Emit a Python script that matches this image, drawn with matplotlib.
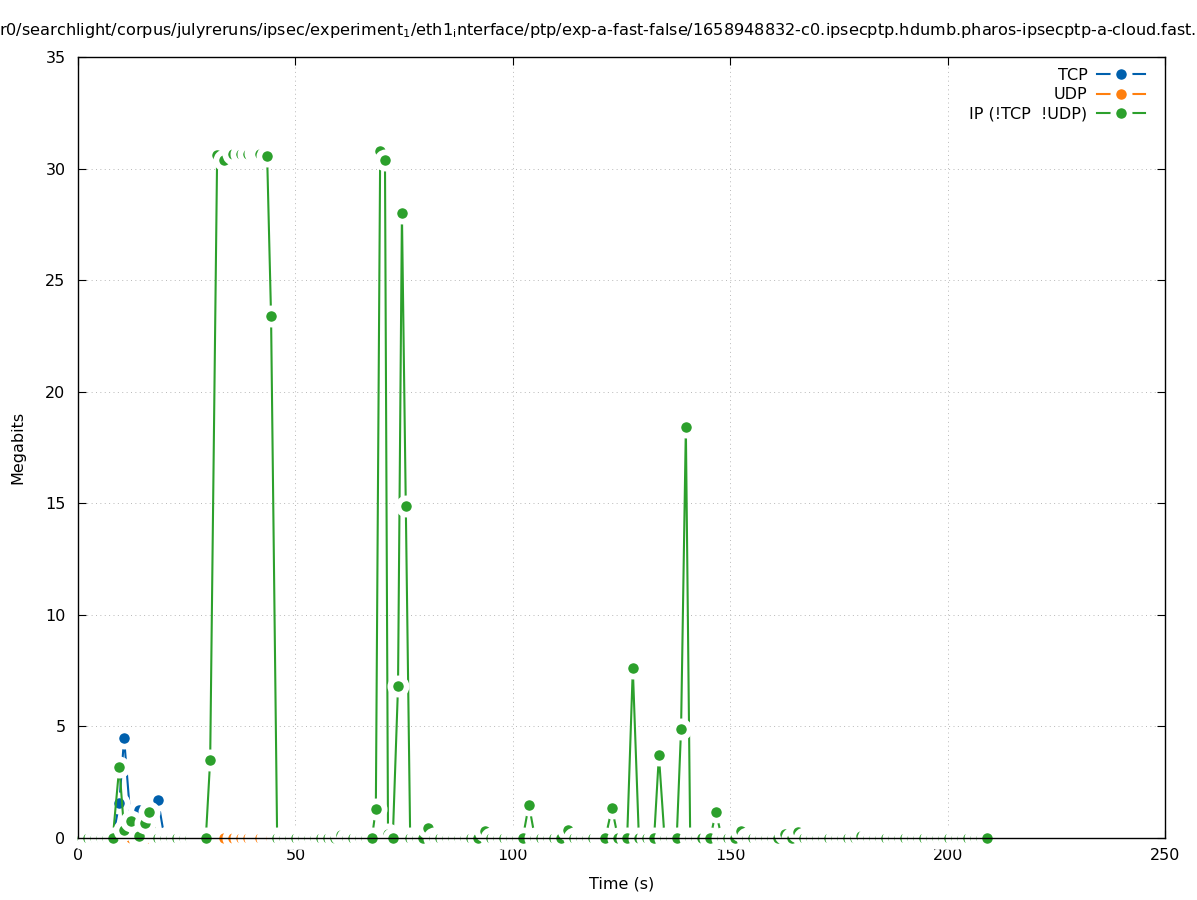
import matplotlib
matplotlib.use('Agg')
import matplotlib.pyplot as plt

# sample times (s) shared by all three series
time_s = [
    1.0, 2.4, 3.9, 5.3, 6.7, 8.0,
    9.5, 10.6, 12.3, 14.1, 15.4, 16.4,
    18.4, 19.9, 21.4, 22.8, 24.3, 25.7, 27.2, 28.4, 29.4,
    30.4, 32.0, 33.6, 35.7, 37.6, 39.2, 40.6, 41.8, 43.5, 44.4,
    45.8, 47.3, 48.8, 50.2, 51.7, 53.1, 54.6, 56.0, 57.5, 59.0, 60.5, 61.9, 63.3, 64.8, 66.2, 67.6,
    68.5, 69.5, 70.6, 71.3, 72.4, 73.6, 74.5, 75.4, 76.4,
    77.9, 79.3, 80.5, 81.9, 83.3, 84.8, 86.2, 87.6, 89.0, 90.5, 92.0, 93.6,
    95.0, 96.5, 98.0, 99.5, 100.9, 102.3, 103.7,
    105.1, 106.6, 108.0, 109.5, 111.0, 112.7,
    114.1, 115.6, 117.0, 118.5, 120.0, 121.3, 122.8, 124.2, 126.3, 127.6,
    129.0, 130.8, 132.5, 133.6, 134.9, 136.3, 137.7, 138.7, 139.8, 140.8,
    142.2, 143.6, 145.4, 146.7, 148.1,
    149.6, 151.0, 152.4, 153.9, 155.3, 156.8, 158.2, 159.7, 161.1, 162.6,
    164.1, 165.6, 167.0, 168.5, 169.9, 171.4, 172.8, 174.3, 175.8, 177.2,
    178.7, 180.1, 181.6, 183.0, 184.5, 185.9, 187.4, 188.8, 190.3, 191.7,
    193.2, 194.6, 196.1, 197.5, 199.0, 200.4, 201.9, 203.3, 204.8, 206.2,
    207.7, 209.1,
]

ip_mbit = [
    0, 0, 0, 0, 0, 0,
    3.2, 0.36, 0.76, 0.1, 0.69, 1.15,
    0, 0, 0, 0, 0, 0, 0, 0, 0,
    3.5, 30.6, 30.4, 30.65, 30.65, 30.65, 30.7, 30.65, 30.57, 23.4,
    0, 0, 0, 0, 0, 0, 0, 0, 0, 0, 0.15, 0, 0, 0, 0, 0,
    1.3, 30.8, 30.4, 0.2, 0, 6.8, 28.0, 14.9, 0,
    0, 0, 0.45, 0, 0, 0, 0, 0, 0, 0, 0, 0.3,
    0, 0, 0, 0, 0, 0, 1.5,
    0, 0, 0, 0, 0, 0.35,
    0, 0, 0, 0, 0, 0, 1.35, 0, 0, 7.6,
    0, 0, 0, 3.7, 0, 0, 0, 4.9, 18.4, 0,
    0, 0, 0, 1.15, 0,
    0, 0, 0.3, 0, 0, 0, 0, 0, 0, 0.2,
    0, 0.25, 0, 0, 0, 0, 0, 0, 0, 0,
    0, 0.1, 0, 0, 0, 0, 0, 0, 0, 0,
    0, 0, 0, 0, 0, 0, 0, 0, 0, 0,
    0, 0,
]

# TCP only carries traffic in the first seconds, zero elsewhere
tcp_nonzero = {9.5: 1.56, 10.6: 4.47, 12.3: 0.3, 14.1: 1.25, 15.4: 0.4, 16.4: 0.2, 18.4: 1.7}
tcp_mbit = [tcp_nonzero.get(t, 0.0) for t in time_s]
# UDP stays at zero for the whole capture
udp_mbit = [0.0 for t in time_s]

labels = ['TCP', 'UDP', 'IP (!TCP  !UDP)']
colors = ['#0060ad', '#ff7f0e', '#2ca02c']

title = ('r0/searchlight/corpus/julyreruns/ipsec/experiment$_{1}$/eth1$_{\\mathrm{i}}$nterface/ptp/'
         'exp-a-fast-false/1658948832-c0.ipsecptp.hdumb.pharos-ipsecptp-a-cloud.fast.f')

plt.rcParams['font.family'] = ['DejaVu Sans']
plt.rcParams['mathtext.default'] = 'regular'

fig = plt.figure(figsize=(11.97, 9), dpi=100)
ax = fig.add_axes([78 / 1197, 62 / 900, 1087 / 1197, 781 / 900])

# white marker edge acts like gnuplot's blank box around each point
for vals, col, lab in zip([tcp_mbit, udp_mbit, ip_mbit], colors, labels):
    ax.plot(time_s, vals, color=col, label=lab, lw=1.5,
            marker='o', ms=11.7, mew=4.1, mfc=col, mec='white', clip_on=False)

ax.set_xlim(0, 250)
ax.set_ylim(0, 35)
ax.set_xticks(range(0, 251, 50))
ax.set_yticks(range(0, 36, 5))
ax.tick_params(direction='in', top=True, right=True, length=5.5, width=0.8, labelsize=11.5)
ax.tick_params(axis='x', pad=7)
ax.tick_params(axis='y', pad=9)
ax.grid(True, color='#b8b8b8', lw=0.7, ls=(0, (1, 3.5)))
for s in ax.spines.values():
    s.set_linewidth(1.0)
    s.set_zorder(5)

ax.set_xlabel('Time (s)', fontsize=11.5)
ax.set_ylabel('Megabits', fontsize=11.5)
ax.xaxis.set_label_coords(0.5, -0.049)
ax.yaxis.set_label_coords(-0.048, 0.5)

ax.legend(loc='upper right', bbox_to_anchor=(0.9816, 0.986), frameon=False,
          markerfirst=False, handlelength=3.0, handletextpad=0.6, labelspacing=0.28,
          borderpad=0, borderaxespad=0, fontsize=11.5)

fig.text(-1 / 1197, 1 - 30 / 900, title, ha='left', va='center', fontsize=11.6)

fig.savefig('out.png', dpi=100)
